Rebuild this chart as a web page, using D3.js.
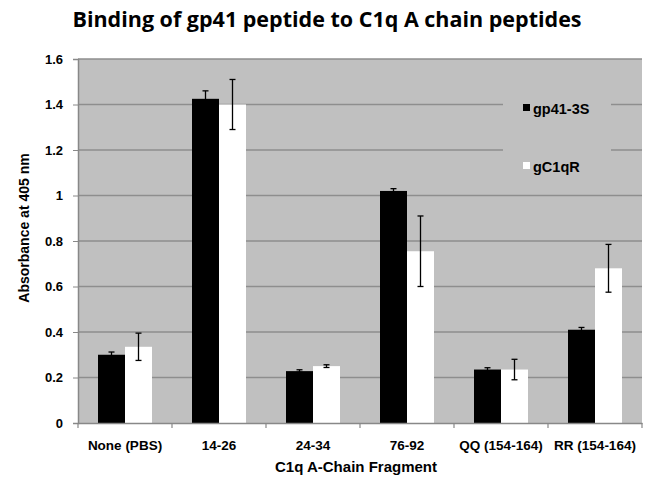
<!DOCTYPE html>
<html>
<head>
<meta charset="utf-8">
<script src="https://d3js.org/d3.v7.min.js"></script>
<style>
body{margin:0;background:#fff;}
</style>
</head>
<body>
<script>
var W=654,H=491;
// data
var categories=["None (PBS)","14-26","24-34","76-92","QQ (154-164)","RR (154-164)"];
var seriesNames=["gp41-3S","gC1qR"];
var gp41Values=[0.30,1.425,0.228,1.02,0.235,0.41];
var gp41Err=[0.012,0.035,0.006,0.01,0.008,0.01];
var gc1qrValues=[0.335,1.40,0.25,0.755,0.235,0.68];
var gc1qrErr=[0.06,0.11,0.006,0.155,0.045,0.105];
var yTicks=[0,0.2,0.4,0.6,0.8,1,1.2,1.4,1.6];
var colors=["#000","#fff"];
var sans="'Liberation Sans',Arial,sans-serif";

var m={l:78,r:12,t:59,b:68};
var svg=d3.select("body").append("svg").attr("width",W).attr("height",H);

var x=d3.scaleBand().domain(categories).range([m.l,W-m.r]);
var y=d3.scaleLinear().domain([0,1.6]).range([H-m.b,m.t]);

// plot background
svg.append("rect").attr("x",m.l).attr("y",m.t).attr("width",W-m.r-m.l).attr("height",H-m.b-m.t).attr("fill","#c0c0c0");

// gridlines
svg.selectAll(".grid").data(yTicks.slice(1)).enter().append("line")
    .attr("x1",m.l).attr("x2",W-m.r)
    .attr("y1",function(d){return y(d);}).attr("y2",function(d){return y(d);})
    .attr("stroke","#8e8e8e").attr("stroke-width",1.5);

// legend box covering gridlines
svg.append("rect").attr("x",503).attr("y",86).attr("width",108).attr("height",102).attr("fill","#c0c0c0");

var bw=27;
var series=[gp41Values,gc1qrValues];
var errs=[gp41Err,gc1qrErr];
series.forEach(function(vals,s){
    var g=svg.append("g");
    g.selectAll("rect").data(vals).enter().append("rect")
        .attr("x",function(d,i){return x(categories[i])+x.bandwidth()/2-bw+s*bw;})
        .attr("y",function(d){return y(d);})
        .attr("width",bw)
        .attr("height",function(d){return y(0)-y(d);})
        .attr("fill",colors[s]);
    // error bars
    vals.forEach(function(v,i){
        var cx=x(categories[i])+x.bandwidth()/2-bw/2+s*bw;
        var e=errs[s][i];
        var y1=y(v+e),y2=y(v-e);
        g.append("line").attr("x1",cx).attr("x2",cx).attr("y1",y1).attr("y2",y2).attr("stroke","#000").attr("stroke-width",1.3);
        g.append("line").attr("x1",cx-3).attr("x2",cx+3).attr("y1",y1).attr("y2",y1).attr("stroke","#000").attr("stroke-width",1.3);
        g.append("line").attr("x1",cx-3).attr("x2",cx+3).attr("y1",y2).attr("y2",y2).attr("stroke","#000").attr("stroke-width",1.3);
    });
});

// y axis
var yAxis=svg.append("g").attr("transform","translate("+m.l+",0)")
    .call(d3.axisLeft(y).tickValues(yTicks).tickSize(5).tickPadding(10).tickFormat(function(d){return d3.format("")(+d.toFixed(1));}));
yAxis.select(".domain").attr("stroke","#888").attr("stroke-width",1.5);
yAxis.selectAll(".tick line").attr("stroke","#888");
yAxis.selectAll("text").attr("font-family",sans).attr("font-weight","bold").attr("font-size",13).attr("fill","#000");

// x axis
var xAxis=svg.append("g").attr("transform","translate(0,"+(H-m.b)+")")
    .call(d3.axisBottom(x).tickSize(0).tickPadding(17));
xAxis.select(".domain").attr("stroke","#888").attr("stroke-width",1.5);
xAxis.selectAll("text").attr("font-family",sans).attr("font-weight","bold").attr("font-size",13.5).attr("fill","#000");
// category separator ticks
svg.selectAll(".xt").data(categories.concat([null])).enter().append("line")
    .attr("x1",function(d,i){return m.l+i*x.step();}).attr("x2",function(d,i){return m.l+i*x.step();})
    .attr("y1",H-m.b).attr("y2",H-m.b+5).attr("stroke","#888").attr("stroke-width",1.2);

// legend
seriesNames.forEach(function(n,i){
    var ly=[104,162][i];
    svg.append("rect").attr("x",523).attr("y",ly).attr("width",7).attr("height",7).attr("fill",colors[i]);
    svg.append("text").attr("x",533).attr("y",ly+10).text(n)
        .attr("font-family",sans).attr("font-weight","bold").attr("font-size",14.5).attr("fill","#000");
});

// titles
svg.append("text").attr("x",327).attr("y",27).attr("text-anchor","middle")
    .attr("font-family","'Open Sans',sans-serif").attr("font-weight","bold").attr("font-size",21.5)
    .text("Binding of gp41 peptide to C1q A chain peptides");
svg.append("text").attr("x",356).attr("y",472).attr("text-anchor","middle")
    .attr("font-family",sans).attr("font-weight","bold").attr("font-size",15)
    .text("C1q A-Chain Fragment");
svg.append("text").attr("transform","translate(29,228) rotate(-90)").attr("text-anchor","middle")
    .attr("font-family",sans).attr("font-weight","bold").attr("font-size",14)
    .text("Absorbance at 405 nm");
</script>
</body>
</html>
